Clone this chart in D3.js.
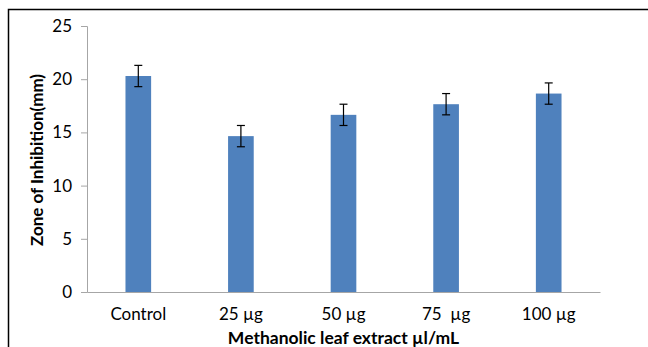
<!DOCTYPE html>
<html>
<head>
<meta charset="utf-8">
<script src="https://cdn.jsdelivr.net/npm/d3@7"></script>
<style>
  body { margin: 0; background: #fff; }
  text { font-family: Lato, "Open Sans", sans-serif; fill: #000; }
</style>
</head>
<body>
<script>
const width = 648;
const height = 347;

const categories = ['Control', '25 µg', '50 µg', '75  µg', '100 µg'];
const values = [20.3, 14.65, 16.65, 17.65, 18.65];
const errors = [1, 1, 1, 1, 1];
const yTicks = [0, 5, 10, 15, 20, 25];

const margin = { left: 87, right: 48, top: 26, bottom: 55 };

const svg = d3.select('body').append('svg')
    .attr('width', width)
    .attr('height', height);

// frame (top and left edges only visible)
svg.append('path')
    .attr('d', `M8.5,${height} V9.5 H${width}`)
    .attr('fill', 'none')
    .attr('stroke', '#000')
    .attr('stroke-width', 1.5);

const x = d3.scaleBand()
    .domain(categories)
    .range([margin.left, width - margin.right])
    .paddingInner(0.75)
    .paddingOuter(0.375);

const y = d3.scaleLinear()
    .domain([0, 25])
    .range([height - margin.bottom, margin.top]);

// y axis
const yAxis = svg.append('g')
    .attr('transform', `translate(${margin.left},0)`)
    .call(d3.axisLeft(y).tickValues(yTicks).tickSize(6).tickPadding(9));
yAxis.select('.domain').attr('stroke', '#a6a6a6');
yAxis.selectAll('.tick line').attr('stroke', '#a6a6a6');
yAxis.selectAll('.tick text').attr('font-size', 17).attr('font-family', 'Lato, "Open Sans", sans-serif');

// x axis
const xAxis = svg.append('g')
    .attr('transform', `translate(0,${y(0)})`)
    .call(d3.axisBottom(x).tickSize(0).tickPadding(16).tickSizeOuter(0));
xAxis.select('.domain').attr('stroke', '#a6a6a6');
xAxis.selectAll('.tick text').attr('font-size', 17).attr('font-family', 'Lato, "Open Sans", sans-serif')
    .style('white-space', 'pre');

// bars
svg.append('g').selectAll('rect')
  .data(values)
  .join('rect')
    .attr('x', (d, i) => x(categories[i]))
    .attr('y', d => y(d))
    .attr('width', x.bandwidth())
    .attr('height', d => y(0) - y(d))
    .attr('fill', '#4f81bd');

// error bars
const eb = svg.append('g').attr('stroke', '#000').attr('stroke-width', 1.2);
values.forEach((v, i) => {
  const cx = x(categories[i]) + x.bandwidth() / 2;
  const top = y(v + errors[i]);
  const bot = y(v - errors[i]);
  eb.append('line').attr('x1', cx).attr('x2', cx).attr('y1', top).attr('y2', bot);
  eb.append('line').attr('x1', cx - 4).attr('x2', cx + 4).attr('y1', top).attr('y2', top);
  eb.append('line').attr('x1', cx - 4).attr('x2', cx + 4).attr('y1', bot).attr('y2', bot);
});

// axis titles
svg.append('text')
    .attr('x', (margin.left + width - margin.right) / 2)
    .attr('y', 344)
    .attr('text-anchor', 'middle')
    .attr('font-size', 17.5)
    .attr('font-weight', 'bold')
    .text('Methanolic leaf extract µl/mL');

svg.append('text')
    .attr('transform', 'translate(43,160) rotate(-90)')
    .attr('text-anchor', 'middle')
    .attr('font-size', 17)
    .attr('font-weight', 'bold')
    .text('Zone of Inhibition(mm)');
</script>
</body>
</html>
